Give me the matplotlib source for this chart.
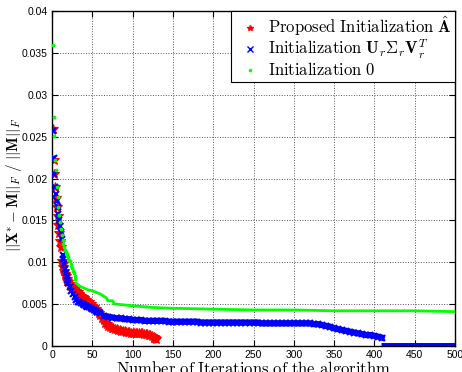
import numpy as np
import matplotlib
matplotlib.use('Agg')
from matplotlib import pyplot as plt

# Proposed initialization (red stars)
red_iter = [1, 2, 3, 4, 5, 6, 7, 8, 9, 10, 11, 12, 13, 14, 15, 16, 17, 18, 19, 20,
            22, 24, 26, 28, 30, 32, 34, 36, 38, 40, 42, 44, 46, 48, 50, 52, 54, 56, 58, 60,
            62, 64, 66, 68, 70, 72, 74, 76, 78, 80, 82, 84, 86, 88, 90, 92, 94, 96, 98, 100,
            102, 104, 106, 108, 110, 112, 114, 116, 118, 120, 122, 124, 126, 127, 128, 129]
red_err = [0.0259, 0.0222, 0.0205, 0.0190, 0.0177, 0.0166, 0.0155, 0.0145, 0.0135, 0.0125,
           0.0118, 0.0102, 0.0098, 0.0094, 0.0090, 0.0086, 0.0083, 0.0080, 0.0078, 0.0076,
           0.0074, 0.0072, 0.0070, 0.0068, 0.0066, 0.0064, 0.0062, 0.0060, 0.0058, 0.0057,
           0.0055, 0.0053, 0.0052, 0.0050, 0.0048, 0.0046, 0.0044, 0.0042, 0.0039, 0.0037,
           0.0034, 0.0031, 0.0028, 0.0026, 0.0024, 0.0023, 0.0022, 0.0021, 0.0020, 0.0020,
           0.0019, 0.0019, 0.0018, 0.0018, 0.0018, 0.0017, 0.0017, 0.0017, 0.0016, 0.0016,
           0.0016, 0.0016, 0.0015, 0.0015, 0.0015, 0.0015, 0.0014, 0.0014, 0.0014, 0.0013,
           0.0013, 0.0012, 0.0011, 0.0010, 0.0009, 0.0008]

# Initialization U_r S_r V_r^T (blue crosses)
blue_iter_early = [1, 2, 3, 4, 5, 6, 7, 8, 9, 10, 11, 12, 13, 14, 15, 16, 17, 18, 19, 20,
                   22, 24, 26, 28, 30, 32, 34, 36, 38, 40, 42, 44, 46, 48, 50, 52, 54, 56, 58, 60]
blue_err_early = [0.0257, 0.0224, 0.0205, 0.0190, 0.0181, 0.0173, 0.0166, 0.0158, 0.0150, 0.0143,
                  0.0136, 0.0128, 0.0109, 0.0104, 0.0098, 0.0092, 0.0087, 0.0083, 0.0079, 0.0075,
                  0.0070, 0.0066, 0.0062, 0.0058, 0.0055, 0.0053, 0.0052, 0.0051, 0.0050, 0.0049,
                  0.0048, 0.0047, 0.0046, 0.0045, 0.0044, 0.0043, 0.0042, 0.0041, 0.0040, 0.0039]
blue_iter_late = list(range(65, 406, 5)) + [409]
blue_err_late = [0.0036, 0.0035, 0.0034, 0.0033, 0.0033, 0.0032, 0.0032, 0.0031, 0.0031, 0.0031,
                 0.0030, 0.0030, 0.0030, 0.0030, 0.0030, 0.0030, 0.0029, 0.0029, 0.0029, 0.0029,
                 0.0029, 0.0029, 0.0029, 0.0029, 0.0028, 0.0028, 0.0028, 0.0028, 0.0028, 0.0028,
                 0.0028, 0.0028, 0.0028, 0.0028, 0.0028, 0.0028, 0.0028, 0.0028, 0.0028, 0.0027,
                 0.0027, 0.0027, 0.0027, 0.0027, 0.0027, 0.0027, 0.0027, 0.0027, 0.0027, 0.0027,
                 0.0027, 0.0027, 0.0026, 0.0026, 0.0025, 0.0024, 0.0023, 0.0021, 0.0020, 0.0019,
                 0.0018, 0.0017, 0.0016, 0.0015, 0.0014, 0.0013, 0.0013, 0.0012, 0.0011, 0.0010]
# after convergence the error is exactly zero
blue_iter_zero = [408, 500]
blue_err_zero = [0.0, 0.0]

# Initialization 0 (green dots), early iterations
green_iter = [1, 2, 3, 4, 5, 6, 7, 8, 9, 10, 11, 12, 13, 14, 15, 16, 17, 18, 19, 20,
              21, 22, 23, 24, 25, 26, 27, 28, 29]
green_err = [0.0360, 0.0273, 0.0251, 0.0222, 0.0210, 0.0190, 0.0178, 0.0166, 0.0156, 0.0148,
             0.0140, 0.0133, 0.0127, 0.0122, 0.0118, 0.0115, 0.0112, 0.0110, 0.0108, 0.0106,
             0.0103, 0.0101, 0.0098, 0.0096, 0.0093, 0.0090, 0.0087, 0.0084, 0.0080]
# later iterations, dense enough to read as a line
green_iter_tail = [30, 35, 40, 45, 50, 55, 60, 65, 68, 69, 75, 76, 77, 80, 90, 100, 125, 150,
                   200, 250, 300, 350, 400, 450, 500]
green_err_tail = [0.0075, 0.0071, 0.0069, 0.0067, 0.0066, 0.0064, 0.0062, 0.0059, 0.0057,
                  0.0054, 0.0054, 0.0053, 0.0050, 0.0050, 0.0049, 0.0048, 0.0046, 0.0045,
                  0.0044, 0.0043, 0.0043, 0.0042, 0.0042, 0.0042, 0.0041]

RED = '#ff0000'
BLUE = '#0000ff'
GREEN = '#00ff00'

plt.rcParams['mathtext.fontset'] = 'cm'
plt.rcParams['font.family'] = ['Liberation Sans', 'DejaVu Sans']

fig = plt.figure(figsize=(4.62, 3.72), dpi=100)
ax = fig.add_axes([0.1126, 0.070, 0.8724, 0.900])

# plotted in the order red, blue, green (green ends up on top)
ax.plot(red_iter[44:], red_err[44:], color=RED, lw=4.5, zorder=2)
ax.plot(red_iter, red_err, '*', color=RED, ms=7.5, mew=0.8, zorder=2)
ax.plot(blue_iter_late, blue_err_late, color=BLUE, lw=4.5, zorder=3)
ax.plot(blue_iter_early, blue_err_early, 'x', color=BLUE, ms=5, mew=1.5, zorder=3)
ax.plot(blue_iter_late, blue_err_late, 'x', color=BLUE, ms=5, mew=1.5, zorder=3)
ax.plot(blue_iter_zero, blue_err_zero, color=BLUE, lw=5, solid_capstyle='butt', zorder=3)
ax.plot(green_iter_tail, green_err_tail, color=GREEN, lw=2.0, zorder=4)
ax.plot(green_iter, green_err, '.', color=GREEN, ms=3.5, zorder=4)

# legend handles (markers only)
h_red, = ax.plot([], [], '*', color=RED, ms=4)
h_blue, = ax.plot([], [], 'x', color=BLUE, ms=4)
h_green, = ax.plot([], [], '.', color=GREEN, ms=3)
leg = ax.legend([h_red, h_blue, h_green],
                [r'$\mathrm{Proposed\ Initialization}\ \hat{\mathbf{A}}$',
                 r'$\mathrm{Initialization}\ \mathbf{U}_r\Sigma_r\mathbf{V}_r^T$',
                 r'$\mathrm{Initialization}\ \mathbf{0}$'],
                loc='upper right', borderaxespad=0, fontsize=12, fancybox=False,
                framealpha=1, edgecolor='black', handlelength=1.9, handletextpad=0.15,
                labelspacing=0.0, borderpad=0.2)
leg.get_frame().set_linewidth(0.8)

ax.set_xlim(0, 500)
ax.set_ylim(0, 0.04)
ax.set_xticks(np.arange(0, 501, 50))
ax.set_yticks(np.arange(0, 0.0401, 0.005))
ax.set_yticklabels(['0', '0.005', '0.01', '0.015', '0.02', '0.025', '0.03', '0.035', '0.04'])
ax.tick_params(direction='in', top=True, right=True, length=4, labelsize=7.5, width=0.8, pad=3)
ax.grid(True, linestyle=':', color='#555555', lw=0.7)
for s in ax.spines.values():
    s.set_linewidth(1.0)

ax.set_xlabel(r'$\mathrm{Number\ of\ Iterations\ of\ the\ algorithm}$', fontsize=12, labelpad=-1)
ax.set_ylabel(r'$||\mathbf{X}^{*}-\mathbf{M}||_F\ /\ ||\mathbf{M}||_F$', fontsize=11)
ax.yaxis.set_label_coords(-0.07, 0.48)

fig.savefig('out.png', dpi=100)
